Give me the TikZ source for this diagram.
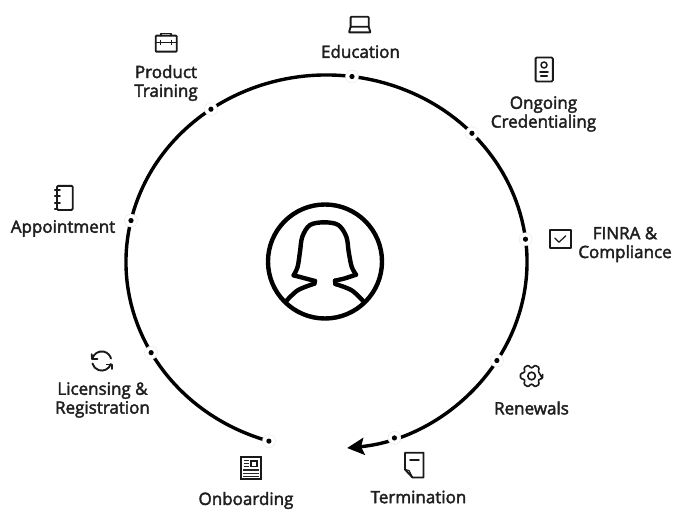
\documentclass[tikz,border=0pt]{standalone}
\usepackage{fontspec}
\setmainfont{Open Sans}
\usetikzlibrary{arrows.meta,calc}
\tikzset{
  ring/.style={line width=3.4pt,-{Stealth[length=17pt,width=17pt,inset=3pt]}},
  dotnode/.style={circle,fill=white,draw=black!10,line width=.4pt,inner sep=0pt,minimum size=13pt,
    path picture={\fill[black] (path picture bounding box.center) circle[radius=2.6pt];}},
  lab/.style={align=center,font=\fontsize{17}{18.8}\selectfont,inner sep=0pt,text=black!88,
    execute at begin node={\special{pdf:code 2 Tr 0.4 w}},
    execute at end node={\special{pdf:code 0 Tr 0 w}}},
  ico/.style={line width=1.9pt,line join=round,line cap=round,draw=black!90},
  thinico/.style={line width=1.2pt,line join=round,line cap=round,draw=black!90},
  person/.style={line width=4.4pt,line join=round,line cap=round,draw=black},
}
\begin{document}
\begin{tikzpicture}[x=1pt,y=-1pt]
\useasboundingbox (0,0) rectangle (686,519);
\fill[white] (0,0) rectangle (686,519);
\coordinate (ctr) at (326.5,262);
% ring
\draw[ring] (ctr) ++(106.7:200.5 and 187) arc[start angle=106.7,end angle=444.1,x radius=200.5,y radius=187];
% dots
\node[dotnode] (dOnb) at ($(ctr)+(106.7:200.5 and 187)$) {};
\node[dotnode] (dLic) at ($(ctr)+(151:200.5 and 187)$) {};
\node[dotnode] (dApp) at ($(ctr)+(192.8:200.5 and 187)$) {};
\node[dotnode] (dPro) at ($(ctr)+(234.8:200.5 and 187)$) {};
\node[dotnode] (dEdu) at ($(ctr)+(277.3:200.5 and 187)$) {};
\node[dotnode] (dOng) at ($(ctr)+(316.5:200.5 and 187)$) {};
\node[dotnode] (dFin) at ($(ctr)+(353:200.5 and 187)$) {};
\node[dotnode] (dRen) at ($(ctr)+(31.8:200.5 and 187)$) {};
\node[dotnode] (dTer) at ($(ctr)+(70.2:200.5 and 187)$) {};
% labels
\node[lab] (lEdu) at (360.5,51.5) {Education};
\node[lab] (lPro) at (166,83) {Product\\Training};
\node[lab] (lApp) at (63,228.5) {Appointment};
\node[lab] (lOng) at (543.5,114) {Ongoing\\Credentialing};
\node[lab] (lFin) at (625,244.5) {FINRA \&\\Compliance};
\node[lab] (lRen) at (531.5,408) {Renewals};
\node[lab] (lTer) at (418.5,497) {Termination};
\node[lab] (lOnb) at (246,500.5) {Onboarding};
\node[lab] (lLic) at (102.5,400) {Licensing \&\\Registration};
% person
\draw[person] (325,261.5) circle[radius=57];
\begin{scope}[shift={(255,195)},scale=1/3]
\draw[person] plot[smooth,tension=.55] coordinates {(92,320) (128,286) (178,266)};
\draw[person] (178,266) -- (180,258);
\draw[person] plot[smooth,tension=.55] coordinates {(180,258) (150,250) (116,241)};
\draw[person] plot[smooth,tension=.55] coordinates {(116,241) (128,215) (135,170) (142,125) (165,90) (208,82) (250,90) (274,125) (281,170) (290,215) (303,239)};
\draw[person] plot[smooth,tension=.55] coordinates {(303,239) (270,250) (240,257)};
\draw[person] (240,257) -- (241,267);
\draw[person] plot[smooth,tension=.55] coordinates {(241,267) (290,286) (326,320)};
\end{scope}
% briefcase (Product Training)
\draw[ico,rounded corners=.8pt] (155.7,35.7) rectangle (176.7,51.7);
\draw[ico] (155.7,42.5) -- (176.7,42.5);
\draw[ico] (160.8,35.7) -- (160.8,33.5) -- (171.2,33.5) -- (171.2,35.7);
\draw[thinico] (160.8,40.5) -- (160.8,44.5) (171.2,40.5) -- (171.2,44.5);
% laptop (Education)
\draw[ico,rounded corners=.8pt] (350.6,26.8) -- (350.6,16.8) -- (368.7,16.8) -- (368.7,26.8);
\draw[ico,rounded corners=.6pt] (350.6,26.8) -- (368.7,26.8) -- (370.5,32.4) -- (349,32.4) -- cycle;
% badge (Ongoing Credentialing)
\draw[ico,rounded corners=1.2pt] (535.6,57.5) rectangle (552.8,81.5);
\draw[thinico,line width=1.5pt] (544,65) circle[radius=3];
\draw[ico] (540,71.7) -- (548,71.7) (540.8,75.8) -- (547.2,75.8);
% checkbox (FINRA)
\draw[ico] (550,229.6) rectangle (571,248);
\draw[thinico] (554.8,238) -- (559,242.2) -- (565.8,235.8);
% notebook (Appointment)
\draw[ico,rounded corners=1.2pt] (57,185.8) rectangle (72.7,210);
\draw[ico] (54.8,190) -- (60,190) (54.8,196.4) -- (60,196.4) (54.8,202.8) -- (60,202.8) (54.8,208.6) -- (57,208.6);
% sync (Licensing)
\coordinate (syn) at (101.7,361);
\draw[ico] ($(syn)+(192:9.6)$) arc[start angle=192,end angle=345,radius=9.6];
\draw[ico] ($(syn)+(18:9.6)$) arc[start angle=18,end angle=165,radius=9.6];
\draw[ico] (91.7,354.3) -- (92.2,359) -- (97.4,359);
\draw[ico] (111.7,369) -- (111.7,364.5) -- (106.7,364.5);
% newspaper (Onboarding)
\draw[line width=2pt,draw=black!90] (241.4,457.4) rectangle (260.6,478.6);
\draw[line width=1.2pt,draw=black!90] (251,461) rectangle (257,466.6);
\draw[line width=1.1pt,draw=black!85] (243.5,460.8) -- (249,460.8) (243.5,463.8) -- (249,463.8) (243.5,466.8) -- (249,466.8)
  (243,470) -- (259,470) (243,473.3) -- (259,473.3) (243,476.4) -- (259,476.4);
% document (Termination)
\draw[ico] (405,469.5) -- (405,452.7) -- (423.5,452.7) -- (423.5,477.5) -- (412.5,477.5) -- cycle;
\draw[thinico] (405,469.5) -- (409,470.5) -- (412.5,477.5);
\draw[ico] (410,460.4) -- (418.8,460.4);
% gear (Renewals)
\coordinate (gea) at (531.6,376);
\draw[ico,line width=1.6pt,rounded corners=1.2pt] ($(gea)+(14:11.4)$)
  \foreach \a in {0,60,...,300} { -- ($(gea)+(\a-14:11.4)$) -- ($(gea)+(\a+14:11.4)$) -- ($(gea)+(\a+22:8.2)$) -- ($(gea)+(\a+38:8.2)$) } -- cycle;
\draw[ico,line width=1.6pt] (gea) circle[radius=3.8];
\end{tikzpicture}
\end{document}
